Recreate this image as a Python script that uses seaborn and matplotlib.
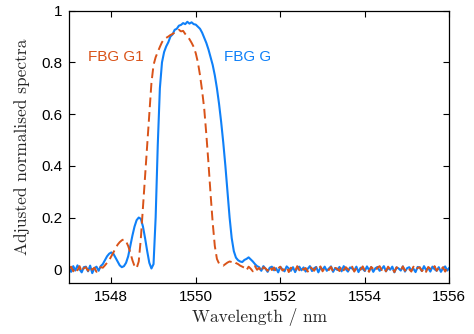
import numpy as np
import pandas as pd
import matplotlib
matplotlib.use("Agg")
import matplotlib.pyplot as plt
import seaborn as sns

# ---- data ----
start_nm = 1547.0
step_nm = 0.05

fbg_g = [
    0.005, -0.01, 0.012, -0.005, 0.015, 0.0, -0.012, 0.008, 0.01, -0.008,
    0.014, -0.015, 0.004, 0.01, -0.006, 0.012,
    0.02, 0.035, 0.05, 0.06, 0.065, 0.06, 0.045, 0.03, 0.015, 0.008,
    0.012, 0.025, 0.05, 0.09, 0.13, 0.165, 0.19, 0.2, 0.195, 0.165,
    0.12, 0.07, 0.025, 0.003, 0.02, 0.2, 0.48, 0.7, 0.8, 0.84,
    0.862, 0.878, 0.9, 0.908, 0.926, 0.93, 0.942, 0.945, 0.952, 0.948,
    0.957, 0.95, 0.955, 0.948, 0.946, 0.938, 0.93, 0.915, 0.895, 0.875,
    0.85, 0.82, 0.79, 0.75, 0.7, 0.64, 0.57, 0.49, 0.4, 0.3,
    0.2, 0.12, 0.07, 0.045, 0.035, 0.03, 0.028, 0.036, 0.04, 0.046,
    0.038, 0.03, 0.02, 0.012,
    0.008, -0.006, 0.012, 0.002, -0.01, 0.006, 0.01, -0.004, 0.004, -0.012,
    0.009, 0.0, -0.008, 0.011, 0.003, -0.006, 0.008, -0.011, 0.005, 0.01,
    -0.004, 0.007, -0.009, 0.002, 0.012, -0.007, 0.004, 0.009, -0.012, 0.006,
    -0.002, 0.01, -0.006, 0.003, 0.011, -0.01, 0.005, -0.003, 0.009, -0.008,
    0.012, 0.0, -0.009, 0.007, 0.003, -0.005, 0.01, -0.011, 0.006, 0.002,
    -0.007, 0.011, -0.003, 0.008, -0.01, 0.004, 0.009, -0.006, 0.001, 0.012,
    -0.008, 0.005, -0.002, 0.01, -0.012, 0.007, 0.003, -0.005, 0.011, -0.009,
    0.004, 0.008, -0.004, 0.002, -0.011, 0.009, 0.006, -0.007, 0.012, -0.003,
    0.005, -0.009, 0.01, 0.0, -0.006, 0.008, -0.01, 0.004, 0.011, -0.005,
    0.006,
]

fbg_g1 = [
    0.002, 0.01, -0.008, 0.006, -0.004, 0.012, -0.01, 0.004, 0.008, -0.006,
    0.01, -0.002, 0.006, -0.01, 0.004, 0.008, 0.006,
    0.015, 0.025, 0.035, 0.05, 0.065, 0.08, 0.095, 0.105, 0.112, 0.116,
    0.108, 0.09, 0.065, 0.035, 0.012, 0.004, 0.03, 0.12, 0.24, 0.36,
    0.48, 0.6, 0.72, 0.79, 0.82, 0.84, 0.86, 0.878, 0.89, 0.895,
    0.9, 0.906, 0.91, 0.915, 0.92, 0.926, 0.92, 0.922, 0.91, 0.9,
    0.89, 0.876, 0.86, 0.835, 0.8, 0.75, 0.69, 0.62, 0.52, 0.41,
    0.29, 0.18, 0.09, 0.04, 0.022, 0.018, 0.014, 0.02, 0.026, 0.03,
    0.028, 0.032, 0.024, 0.02, 0.014, 0.01,
    0.006, -0.004, 0.01, 0.002, -0.008, 0.012, -0.002, 0.005, -0.01, 0.008,
    0.003, -0.006, 0.011, -0.003, 0.007, -0.009, 0.004, 0.01, -0.005, 0.001,
    0.009, -0.011, 0.006, 0.002, -0.007, 0.012, -0.004, 0.008, -0.002, 0.005,
    -0.009, 0.01, 0.003, -0.006, 0.007, -0.001, 0.011, -0.008, 0.004, 0.006,
    -0.003, 0.009, -0.01, 0.005, 0.002, -0.007, 0.012, -0.004, 0.008, 0.0,
    -0.006, 0.01, -0.009, 0.004, 0.007, -0.002, 0.011, -0.005, 0.003, -0.01,
    0.009, 0.001, -0.007, 0.006, 0.012, -0.003, 0.005, -0.008, 0.01, -0.001,
    0.004, -0.011, 0.008, 0.002, -0.005, 0.011, -0.006, 0.007, 0.0, -0.009,
    0.01, -0.003, 0.005, 0.008, -0.007, 0.003, -0.01, 0.009, 0.002, -0.004,
    0.012, -0.006, 0.006, -0.002, 0.008, -0.009, 0.004, 0.007,
]

x_ticks = [1548, 1550, 1552, 1554, 1556]
y_ticks = [0, 0.2, 0.4, 0.6, 0.8, 1]
y_tick_labels = ["0", "0.2", "0.4", "0.6", "0.8", "1"]

wl_g = np.round(start_nm + step_nm * np.arange(len(fbg_g)), 3)
wl_g1 = np.round(start_nm + step_nm * np.arange(len(fbg_g1)), 3)
df_g = pd.DataFrame({"wl": wl_g, "v": fbg_g})
df_g1 = pd.DataFrame({"wl": wl_g1, "v": fbg_g1})

# ---- style ----
sns.set_style("ticks")
plt.rcParams.update({
    "font.family": ["Liberation Sans", "DejaVu Sans"],
    "xtick.direction": "in",
    "ytick.direction": "in",
    "xtick.top": True,
    "ytick.right": True,
    "xtick.major.size": 4,
    "ytick.major.size": 4,
    "xtick.major.width": 0.8,
    "ytick.major.width": 0.8,
    "axes.linewidth": 0.9,
    "axes.edgecolor": "black",
    "xtick.color": "black",
    "ytick.color": "black",
})

BLUE = "#0F80F8"
ORANGE = "#D95319"

fig = plt.figure(figsize=(4.74, 3.34), dpi=100)
ax = fig.add_axes([0.1456, 0.1536, 0.8024, 0.8144])

sns.lineplot(data=df_g, x="wl", y="v", ax=ax, color=BLUE, lw=1.5,
             estimator=None, sort=False)
sns.lineplot(data=df_g1, x="wl", y="v", ax=ax, color=ORANGE, lw=1.4,
             estimator=None, sort=False, linestyle=(0, (5, 2.5)))

ax.set_xlim(1547, 1556)
ax.set_ylim(-0.052, 1.0)
ax.set_xticks(x_ticks)
ax.set_xticklabels([str(t) for t in x_ticks], fontsize=11)
ax.set_yticks(y_ticks)
ax.set_yticklabels(y_tick_labels, fontsize=11)
ax.tick_params(axis="both", which="both", pad=5)

ax.set_xlabel("Wavelength / nm", family="cmr10", fontsize=12.5, labelpad=3)
ax.set_ylabel("Adjusted normalised spectra", family="cmr10", fontsize=12.5, labelpad=8)

ax.text(1547.45, 0.82, "FBG G1", color=ORANGE, fontsize=11, ha="left", va="center")
ax.text(1550.67, 0.82, "FBG G", color=BLUE, fontsize=11, ha="left", va="center")

for s in ax.spines.values():
    s.set_visible(True)

fig.savefig("out.png", dpi=100)
